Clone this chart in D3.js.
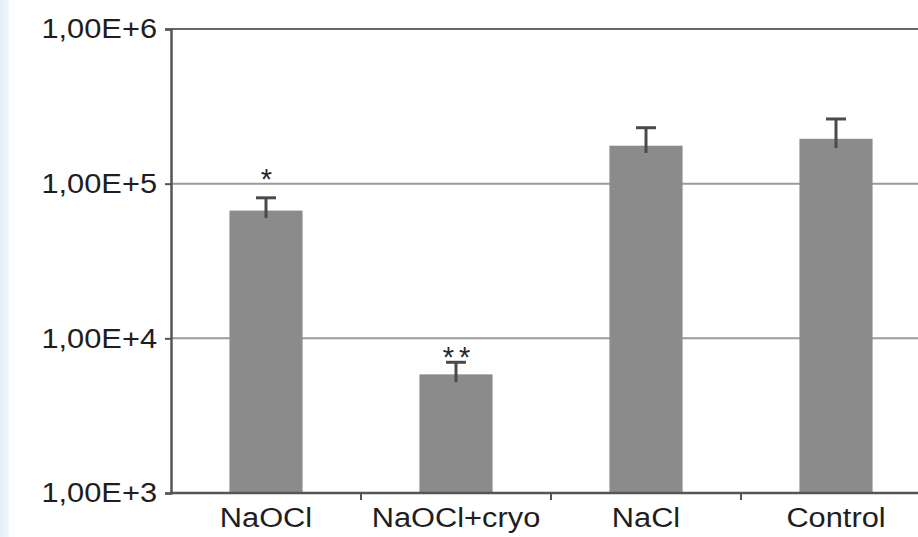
<!DOCTYPE html>
<html>
<head>
<meta charset="utf-8">
<script src="https://cdn.jsdelivr.net/npm/d3@7"></script>
<style>
  body { margin: 0; background: #fff; overflow: hidden; }
  svg { display: block; font-family: "Liberation Sans", Arial, sans-serif; }
</style>
</head>
<body>
<div class="rellenar"></div>
<script>
// datos
var categorias = ["NaOCl", "NaOCl+cryo", "NaCl", "Control"];
var valores = [67000, 5850, 176000, 195000];
var errorAlto = [81000, 7000, 230000, 262000];
var errorBajo = [60000, 5200, 158000, 170000];
var marcas = ["*", "**", "", ""];
var posMarca = [118000, 8250, 1e6, 1e6];
var ticksY = [1e3, 1e4, 1e5, 1e6];
var etiquetasY = ["1,00E+3", "1,00E+4", "1,00E+5", "1,00E+6"];

var w = 918;
var h = 537;

var svg = d3.select(".rellenar")
    .append("svg")
    .attr("width", w)
    .attr("height", h);

// franja azul del borde izquierdo
var grad = svg.append("defs").append("linearGradient")
    .attr("id", "franja")
    .attr("x1", "0").attr("x2", "1");
grad.append("stop").attr("offset", "0").attr("stop-color", "#e4f1f8");
grad.append("stop").attr("offset", "0.75").attr("stop-color", "#edf6fa");
grad.append("stop").attr("offset", "1").attr("stop-color", "#ffffff");
svg.append("rect")
    .attr("x", 0).attr("y", 0)
    .attr("width", 10).attr("height", h)
    .attr("fill", "url(#franja)");

var x = d3.scaleBand()
    .domain(categorias)
    .range([171, 931]);

var y = d3.scaleLog()
    .domain([1e3, 1e6])
    .range([493, 29]);

// lineas de la grilla
svg.selectAll(".grid")
    .data(ticksY.slice(1))
    .enter()
    .append("line")
    .attr("class", "grid")
    .attr("x1", 171)
    .attr("x2", w)
    .attr("y1", function(d) { return y(d); })
    .attr("y2", function(d) { return y(d); })
    .attr("stroke", function(d) { return d === 1e6 ? "#666" : "#9a9a9a"; })
    .attr("stroke-width", 2);

var anchoBarra = x.bandwidth() * 0.385;

svg.selectAll("rect.barra")
    .data(valores)
    .enter()
    .append("rect")
    .attr("class", "barra")
    .attr("x", function(d, i) { return x(categorias[i]) + (x.bandwidth() - anchoBarra) / 2; })
    .attr("width", anchoBarra)
    .attr("y", function(d) { return y(d); })
    .attr("height", function(d) { return y(1e3) - y(d); })
    .attr("fill", "#8b8b8b");

// barras de error
svg.selectAll(".err")
    .data(valores)
    .enter()
    .append("line")
    .attr("class", "err")
    .attr("x1", function(d, i) { return x(categorias[i]) + x.bandwidth() / 2; })
    .attr("x2", function(d, i) { return x(categorias[i]) + x.bandwidth() / 2; })
    .attr("y1", function(d, i) { return y(errorBajo[i]); })
    .attr("y2", function(d, i) { return y(errorAlto[i]); })
    .attr("stroke", "#4a4a4a")
    .attr("stroke-width", 3);

svg.selectAll(".cap")
    .data(valores)
    .enter()
    .append("line")
    .attr("class", "cap")
    .attr("x1", function(d, i) { return x(categorias[i]) + x.bandwidth() / 2 - 10; })
    .attr("x2", function(d, i) { return x(categorias[i]) + x.bandwidth() / 2 + 10; })
    .attr("y1", function(d, i) { return y(errorAlto[i]); })
    .attr("y2", function(d, i) { return y(errorAlto[i]); })
    .attr("stroke", "#4a4a4a")
    .attr("stroke-width", 3);

svg.selectAll(".marca")
    .data(marcas)
    .enter()
    .append("text")
    .attr("class", "marca")
    .text(function(d) { return d; })
    .attr("x", function(d, i) { return x(categorias[i]) + x.bandwidth() / 2; })
    .attr("dx", 3)
    .attr("y", function(d, i) { return y(posMarca[i]) + 16; })
    .attr("text-anchor", "middle")
    .attr("font-size", 29)
    .attr("letter-spacing", 5)
    .attr("fill", "#2a2a2a");

// ejes
var ejeY = svg.append("g")
    .attr("transform", "translate(171,0)")
    .call(d3.axisLeft(y)
        .tickValues(ticksY)
        .tickFormat(function(d, i) { return etiquetasY[i]; })
        .tickSize(6)
        .tickPadding(14));
ejeY.select(".domain").attr("stroke", "#555").attr("stroke-width", 2.5);
ejeY.selectAll(".tick line").attr("stroke", "#555").attr("stroke-width", 2);
ejeY.selectAll(".tick text")
    .attr("font-size", 28)
    .attr("fill", "#1e1e1e")
    .attr("font-family", "Liberation Sans, Arial, sans-serif")
    .attr("transform", "scale(1.1,1)")
    .attr("x", -14 / 1.1);

var ejeX = svg.append("g")
    .attr("transform", "translate(0,493)")
    .call(d3.axisBottom(x).tickSize(0).tickPadding(14));
ejeX.select(".domain").remove();
ejeX.append("line")
    .attr("x1", 171).attr("x2", w)
    .attr("stroke", "#555").attr("stroke-width", 2.5);
ejeX.selectAll(".tick text")
    .attr("font-size", 28)
    .attr("fill", "#1e1e1e")
    .attr("font-family", "Liberation Sans, Arial, sans-serif")
    .attr("transform", "scale(1.1,1)");

// marcas entre categorias
ejeX.selectAll(".sep")
    .data(categorias.slice(1))
    .enter()
    .append("line")
    .attr("class", "sep")
    .attr("x1", function(d) { return x(d); })
    .attr("x2", function(d) { return x(d); })
    .attr("y1", 0)
    .attr("y2", 7)
    .attr("stroke", "#555")
    .attr("stroke-width", 2);
</script>
</body>
</html>
